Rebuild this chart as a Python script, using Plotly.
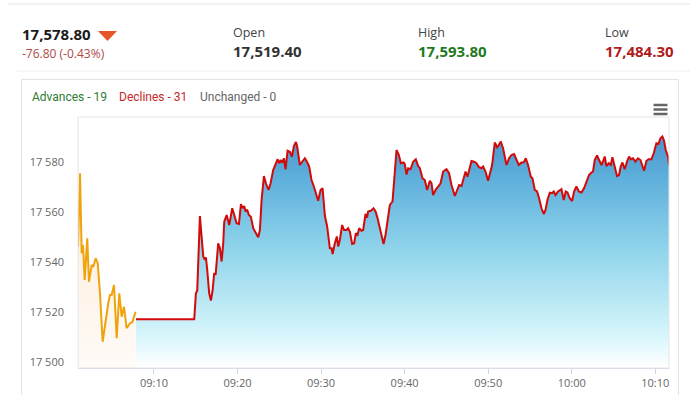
import pandas as pd
import plotly.graph_objects as go

# ---------------- data ----------------
# pre-open session: minutes after 09:00 and index level
pre_minutes = [0.91, 1.15, 1.35, 1.51, 1.71, 2.02, 2.22, 2.55, 2.74, 3.03, 3.27, 3.54, 3.86,
               4.14, 4.53, 4.74, 4.94, 5.22, 5.54, 5.85, 6.14, 6.41, 6.73, 7.13, 7.40, 7.81]
pre_values = [17546.2, 17575.6, 17543.6, 17546.9, 17532.9, 17549.6, 17532.2, 17538.9, 17538.2,
              17541.6, 17539.6, 17527.6, 17508.2, 17514.9, 17523.6, 17526.9, 17526.9, 17530.9,
              17509.6, 17527.6, 17518.2, 17522.2, 17513.6, 17515.6, 17516.0, 17520.2]

# regular session: minutes after 09:00 and index level
mkt_minutes = [7.85, 14.82, 15.02, 15.18, 15.50, 15.71, 15.90, 16.10, 16.22, 16.38, 16.61, 16.82,
               17.02, 17.21, 17.38, 17.69, 17.89, 18.10, 18.29, 18.41, 18.70, 19.01, 19.37, 19.61,
               19.89, 20.17, 20.41, 20.61, 20.80, 20.97, 21.16, 21.36, 21.60, 21.88, 22.17, 22.48,
               22.68, 22.88, 23.16, 23.40, 23.72, 23.96, 24.27, 24.51, 24.80, 24.99, 25.16, 25.35,
               25.55, 25.75, 25.99, 26.27, 26.51, 26.75, 26.99, 27.14, 27.46, 27.74, 28.06, 28.34,
               28.58, 28.86, 29.14, 29.65, 29.94, 30.18, 30.46, 30.73, 31.05, 31.26, 31.38, 31.65,
               31.89, 32.05, 32.25, 32.52, 32.76, 33.05, 33.24, 33.45, 33.72, 33.96, 34.16, 34.37,
               34.56, 34.84, 35.04, 35.32, 35.51, 35.63, 35.96, 36.28, 36.52, 36.76, 37.00, 37.24,
               37.48, 37.72, 37.95, 38.23, 38.55, 38.74, 39.03, 39.31, 39.55, 39.87, 40.02, 40.23,
               40.42, 40.71, 41.02, 41.34, 41.62, 41.82, 42.14, 42.42, 42.69, 43.02, 43.22, 43.41,
               43.73, 44.01, 44.30, 44.61, 45.01, 45.32, 45.61, 46.01, 46.28, 46.52, 46.81, 47.08,
               47.29, 47.52, 47.80, 48.00, 48.31, 48.60, 48.91, 49.20, 49.39, 49.68, 49.99, 50.19,
               50.47, 50.79, 51.07, 51.27, 51.51, 51.78, 51.99, 52.19, 52.50, 52.79, 53.10, 53.39,
               53.66, 53.98, 54.26, 54.50, 54.77, 55.10, 55.30, 55.58, 55.85, 56.09, 56.38, 56.65,
               56.86, 57.09, 57.37, 57.64, 57.85, 58.05, 58.36, 58.77, 59.04, 59.28, 59.49, 59.76,
               60.04, 60.28, 60.56, 60.84, 61.16, 61.47, 61.76, 62.07, 62.36, 62.55, 62.75, 63.03,
               63.27, 63.55, 63.74, 63.95, 64.15, 64.43, 64.67, 64.87, 65.14, 65.42, 65.66, 65.86,
               66.07, 66.34, 66.62, 66.86, 67.06, 67.33, 67.62, 67.93, 68.22, 68.46, 68.65, 68.94,
               69.21, 69.53, 69.81, 70.13, 70.37, 70.61, 70.85, 71.04, 71.25, 71.52, 71.64]
mkt_values = [17517.2, 17517.2, 17527.5, 17528.8, 17558.5, 17550.3, 17542.3, 17541.0, 17542.0,
              17536.9, 17527.6, 17524.7, 17528.8, 17535.7, 17534.9, 17547.6, 17545.7, 17540.3,
              17547.6, 17556.2, 17558.9, 17554.9, 17561.6, 17558.9, 17555.6, 17555.3, 17563.3,
              17561.6, 17562.5, 17560.3, 17561.0, 17558.9, 17558.2, 17553.6, 17551.6, 17550.0,
              17552.9, 17564.9, 17574.5, 17571.6, 17568.9, 17571.6, 17576.9, 17578.9, 17581.2,
              17579.6, 17580.9, 17579.8, 17581.6, 17577.2, 17584.6, 17584.2, 17582.2, 17586.5,
              17588.1, 17586.3, 17578.9, 17580.2, 17581.6, 17580.0, 17578.3, 17572.9, 17570.3,
              17564.6, 17568.9, 17569.6, 17558.5, 17554.3, 17545.6, 17545.6, 17543.3, 17547.6,
              17550.3, 17546.3, 17548.9, 17554.9, 17552.9, 17552.9, 17553.6, 17552.2, 17547.3,
              17547.6, 17551.6, 17551.0, 17553.6, 17552.6, 17552.9, 17559.3, 17557.9, 17560.3,
              17560.6, 17561.6, 17560.3, 17557.6, 17554.3, 17550.0, 17547.3, 17551.0, 17556.2,
              17562.9, 17564.3, 17572.3, 17584.9, 17582.9, 17579.6, 17579.9, 17579.2, 17575.1,
              17577.6, 17577.2, 17580.2, 17581.2, 17578.5, 17577.6, 17573.6, 17572.9, 17568.9,
              17572.6, 17571.6, 17566.9, 17569.1, 17570.2, 17571.6, 17576.3, 17577.2, 17575.6,
              17570.9, 17566.5, 17568.9, 17570.9, 17570.5, 17574.2, 17576.3, 17574.2, 17578.3,
              17580.5, 17580.2, 17579.6, 17578.0, 17577.6, 17578.3, 17576.3, 17572.6, 17575.6,
              17578.9, 17587.9, 17586.0, 17586.9, 17588.3, 17585.6, 17582.2, 17578.9, 17581.6,
              17582.9, 17583.3, 17580.9, 17578.9, 17579.9, 17580.0, 17581.6, 17578.9, 17574.2,
              17573.6, 17568.9, 17568.3, 17565.6, 17561.6, 17559.3, 17560.9, 17564.9, 17567.8,
              17567.6, 17568.3, 17566.9, 17568.3, 17569.2, 17564.9, 17568.3, 17567.9, 17565.6,
              17564.5, 17568.3, 17570.3, 17568.3, 17567.9, 17569.6, 17572.2, 17574.9, 17575.9,
              17576.3, 17580.9, 17582.7, 17580.9, 17578.9, 17580.3, 17582.3, 17578.5, 17579.6,
              17578.9, 17582.0, 17578.3, 17574.5, 17574.9, 17578.3, 17579.9, 17577.2, 17580.3,
              17582.3, 17581.2, 17581.6, 17580.3, 17581.6, 17580.9, 17578.9, 17576.6, 17580.6,
              17581.2, 17581.2, 17583.6, 17587.6, 17587.3, 17589.6, 17590.3, 17588.7, 17584.9,
              17582.2, 17578.8]

y_tick_values = [17500, 17520, 17540, 17560, 17580]
y_range = [17497.7, 17598.1]

last_price = "17,578.80"
change_text = "-76.80 (-0.43%)"
open_price = "17,519.40"
high_price = "17,593.80"
low_price = "17,484.30"
breadth = [("Advances - 19", "#2e7d32"), ("Declines - 31", "#c62828"), ("Unchanged - 0", "#666666")]

# ---------------- build ----------------
base = pd.Timestamp("2023-01-02 09:00:00")
pre_t = base + pd.to_timedelta(pre_minutes, unit="min")
mkt_t = base + pd.to_timedelta(mkt_minutes, unit="min")

W, H = 690, 395
L, R, T, B = 78, 21, 117, 27
PW, PH = W - L - R, H - T - B


def px(x):
    return (x - L) / PW


def py(y):
    return (H - B - y) / PH


fig = go.Figure()

fig.add_trace(go.Scatter(
    x=pre_t, y=pre_values, mode="lines",
    line=dict(color="#f0a30a", width=2),
    fill="tozeroy",
    fillgradient=dict(type="vertical",
                      colorscale=[[0, "#fffbf7"], [0.5, "#fdf0e2"], [1, "#fbe2c4"]],
                      start=y_range[0], stop=y_range[1]),
    hoverinfo="skip", showlegend=False))

fig.add_trace(go.Scatter(
    x=mkt_t, y=mkt_values, mode="lines",
    line=dict(color="#d10a0a", width=2),
    fill="tozeroy",
    fillgradient=dict(type="vertical",
                      colorscale=[[0, "#ffffff"], [0.12, "#d8f6fc"], [0.45, "#93d6ec"],
                                  [0.75, "#5fb0dc"], [1, "#3d87c5"]],
                      start=y_range[0], stop=y_range[1]),
    hoverinfo="skip", showlegend=False))

ann = []


def text(x, y, s, size, color, family="Open Sans", bold=False, anchor="left"):
    ann.append(dict(x=px(x), y=py(y), xref="paper", yref="paper", text=("<b>%s</b>" % s) if bold else s,
                    showarrow=False, xanchor=anchor, yanchor="middle",
                    font=dict(size=size, color=color, family=family)))


text(20, 34, last_price, 15, "#1a1a1a", bold=True)
text(20, 53, change_text, 12, "#b04848")
text(231, 32, "Open", 12.5, "#444444")
text(231, 51, open_price, 15, "#333333", bold=True)
text(416, 32, "High", 12.5, "#444444")
text(416, 51, high_price, 15, "#1f7a1f", bold=True)
text(603, 32, "Low", 12.5, "#444444")
text(603, 51, low_price, 15, "#b01c1c", bold=True)

bx = [30, 117, 198]
for (s, c), x0 in zip(breadth, bx):
    text(x0, 97, s, 12, c, family="Roboto")

shapes = []
# separators / container
shapes.append(dict(type="line", xref="paper", yref="paper", x0=px(8), x1=px(690), y0=py(4), y1=py(4),
                   line=dict(color="#e6e6e6", width=1)))
shapes.append(dict(type="line", xref="paper", yref="paper", x0=px(16), x1=px(690), y0=py(71), y1=py(71),
                   line=dict(color="#f0f0f0", width=1)))
shapes.append(dict(type="path", xref="paper", yref="paper",
                   path="M %f %f L %f %f L %f %f L %f %f" % (px(21.5), py(395), px(21.5), py(79.5),
                                                               px(678.5), py(79.5), px(678.5), py(395)),
                   line=dict(color="#e3e3e3", width=1)))
# plot frame
shapes.append(dict(type="rect", xref="paper", yref="paper", x0=0, x1=1, y0=0, y1=1,
                   line=dict(color="#e6e6e6", width=1), layer="above"))
# down triangle
shapes.append(dict(type="path", xref="paper", yref="paper",
                   path="M %f %f L %f %f L %f %f Z" % (px(98), py(31), px(117), py(31), px(107.5), py(41)),
                   fillcolor="#e5562b", line=dict(width=0)))
# hamburger menu
for yy in (105, 109.5, 114):
    shapes.append(dict(type="line", xref="paper", yref="paper", x0=px(653.5), x1=px(667.5),
                       y0=py(yy), y1=py(yy), line=dict(color="#666666", width=2.5)))

fig.update_layout(
    width=W, height=H,
    margin=dict(l=L, r=R, t=T, b=B, pad=0, autoexpand=False),
    paper_bgcolor="white", plot_bgcolor="white",
    separators=". ",
    annotations=ann, shapes=shapes,
    showlegend=False,
    xaxis=dict(type="date", range=[pre_t[0], mkt_t[-1]], tickformat="%H:%M", dtick=600000,
               tick0=base, showgrid=False, zeroline=False, showline=True, linecolor="#ccd6eb",
               linewidth=1, ticks="outside", ticklen=5, tickcolor="#ccd6eb", automargin=False,
               tickfont=dict(family="Open Sans", size=11, color="#666666"), fixedrange=True),
    yaxis=dict(range=y_range, tickvals=y_tick_values, tickformat=",d", showgrid=False,
               zeroline=False, showline=False, ticks="", ticklabelstandoff=13, automargin=False,
               tickfont=dict(family="Open Sans", size=11, color="#666666"), fixedrange=True),
)

fig.write_html("out.html", config={"displayModeBar": False},
               post_script="document.body.style.margin='0px';document.body.style.padding='0px';")
